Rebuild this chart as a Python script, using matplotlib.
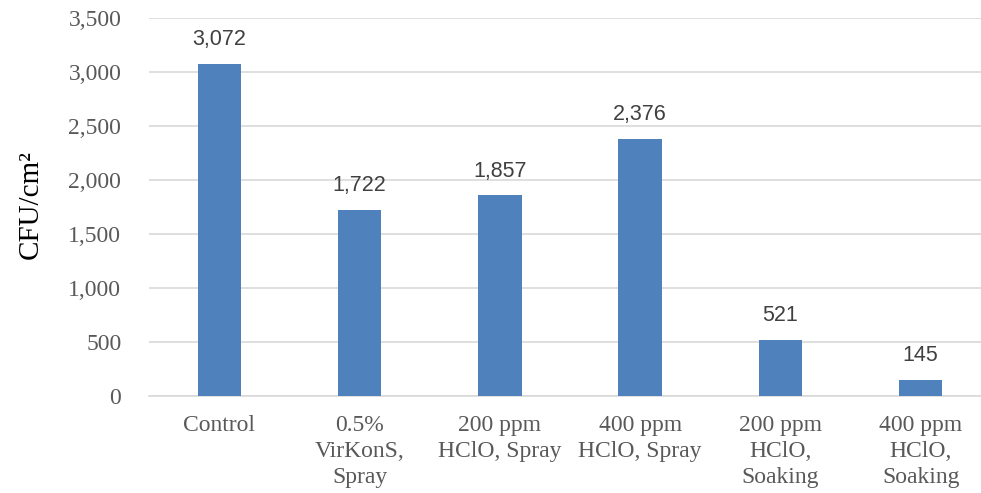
import matplotlib
matplotlib.use('Agg')
import matplotlib.pyplot as plt
from matplotlib.ticker import FuncFormatter
import numpy as np

# Data
categories = ['Control', '0.5%\nVirKonS,\nSpray', '200 ppm\nHClO, Spray',
              '400 ppm\nHClO, Spray', '200 ppm\nHClO,\nSoaking', '400 ppm\nHClO,\nSoaking']
cfu = [3072, 1722, 1857, 2376, 521, 145]
yticks = [0, 500, 1000, 1500, 2000, 2500, 3000, 3500]

serif = 'Liberation Serif'
sans = 'Liberation Sans'

fig = plt.figure(figsize=(9.81, 4.93), dpi=100)
ax = fig.add_axes([0.152, 0.1968, 0.858, 0.7667])

x = np.arange(len(categories))
bars = ax.bar(x, cfu, width=0.31, color='#4F81BD', zorder=3)

for xi, v in zip(x, cfu):
    ax.annotate(f'{v:,}', (xi, v), xytext=(0, 10), textcoords='offset points',
                ha='center', va='bottom', fontsize=15.5, family=sans, color='#404040')

ax.set_xlim(-0.5, len(categories) - 0.5)
ax.set_ylim(0, 3500)
ax.set_yticks(yticks)
ax.yaxis.set_major_formatter(FuncFormatter(lambda v, p: f'{int(v):,}'))
ax.grid(axis='y', color='#D9D9D9', linewidth=1.2, zorder=0)
ax.set_xticks(x)
ax.set_xticklabels(categories, fontsize=17, family=serif, color='#595959',
                   linespacing=1.3, va='top')
for lab in ax.get_yticklabels():
    lab.set_fontsize(17)
    lab.set_family(serif)
    lab.set_color('#595959')
ax.tick_params(axis='y', length=0, pad=20)
ax.tick_params(axis='x', length=0, pad=14)

for s in ['top', 'right', 'left']:
    ax.spines[s].set_visible(False)
ax.spines['bottom'].set_color('#D9D9D9')
ax.spines['bottom'].set_linewidth(1.2)

fig.text(0.031, 0.585, 'CFU/cm²', rotation=90, ha='center', va='center',
         fontsize=21, family=serif, color='black')

fig.savefig('out.png', dpi=100)
